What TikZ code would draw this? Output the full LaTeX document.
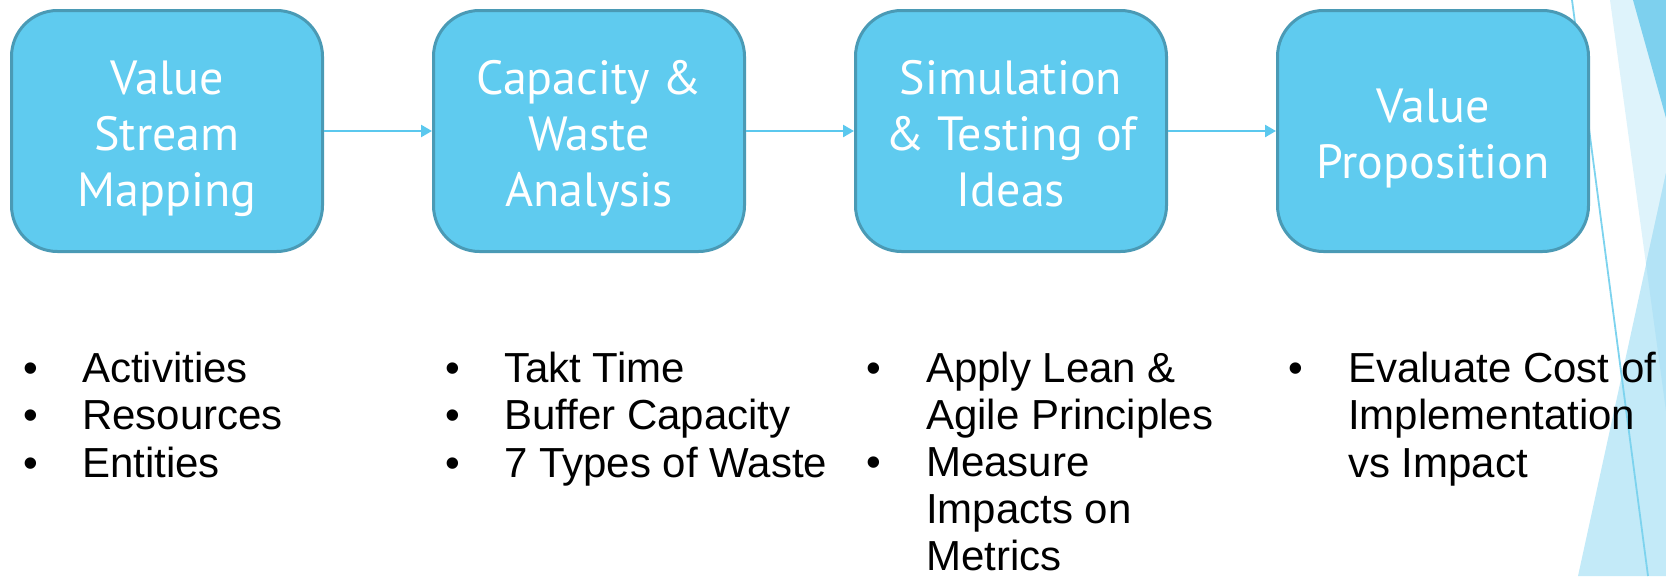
\documentclass[tikz,border=0pt]{standalone}
\usepackage{fontspec}
\setmainfont{Liberation Sans}
\newfontfamily\boxfont{PT Sans}
\usetikzlibrary{arrows.meta}
\definecolor{boxfill}{HTML}{5FCBEF}
\definecolor{boxline}{HTML}{4A9AB5}
\definecolor{arrowc}{HTML}{5BC8EE}
\definecolor{decmed}{HTML}{7DD0EE}
\definecolor{decvlight}{HTML}{DEF3FB}
\definecolor{declight}{HTML}{C3EAF8}
\definecolor{decover}{HTML}{B3E3F6}
\definecolor{decline}{HTML}{7DD3EE}
\newcommand{\boxtext}[1]{\raisebox{-8pt}[\height][\depth]{\begin{tabular}{@{}c@{}}#1\end{tabular}}}
\tikzset{
  stepbox/.style={draw=boxline, line width=3pt, fill=boxfill, rounded corners=46pt,
    minimum width=311pt, minimum height=241pt, inner sep=0pt, align=center,
    text=white, font=\boxfont\fontsize{48}{56}\selectfont},
  flowarrow/.style={draw=arrowc, line width=2.5pt, -{Triangle[length=11pt,width=12pt]}},
  bul/.style={anchor=base, inner sep=0pt, font=\fontsize{42}{47}\selectfont},
  item/.style={anchor=base west, inner sep=0pt, font=\fontsize{42}{47}\selectfont},
}
\begin{document}
\begin{tikzpicture}[x=1pt,y=-1pt]
\useasboundingbox (0,0) rectangle (1666,576);
% background decoration
\fill[decvlight] (1610,0) -- (1666,0) -- (1666,411) -- cycle;
\fill[decmed] (1633,0) -- (1666,0) -- (1666,118) -- cycle;
\fill[declight] (1578,576) -- (1666,173) -- (1666,576) -- cycle;
\fill[decover] (1646,264) -- (1666,173) -- (1666,411) -- cycle;
\draw[decline, line width=1.8pt] (1572,0) -- (1648,576);
% boxes
\node[stepbox] (b1) at (167,131) {\boxtext{Value\\Stream\\Mapping}};
\node[stepbox] (b2) at (589,131) {\boxtext{Capacity \&\\Waste\\Analysis}};
\node[stepbox] (b3) at (1011,131) {\boxtext{Simulation\\\& Testing of\\Ideas}};
\node[stepbox] (b4) at (1433,131) {\boxtext{Value\\Proposition}};
\draw[flowarrow] (b1) -- (b2);
\draw[flowarrow] (b2) -- (b3);
\draw[flowarrow] (b3) -- (b4);
% column 1
\node[bul] (c1b1) at (31,382) {•};
\node[bul] (c1b2) at (31,429.5) {•};
\node[bul] (c1b3) at (31,477) {•};
\node[item] (c1t1) at (82,382) {Activities};
\node[item] (c1t2) at (82,429.5) {Resources};
\node[item] (c1t3) at (82,477) {Entities};
% column 2
\node[bul] (c2b1) at (453,382) {•};
\node[bul] (c2b2) at (453,429.5) {•};
\node[bul] (c2b3) at (453,477) {•};
\node[item] (c2t1) at (504,382) {Takt Time};
\node[item] (c2t2) at (504,429.5) {Buffer Capacity};
\node[item] (c2t3) at (504,477) {7 Types of Waste};
% column 3
\node[bul] (c3b1) at (874,382) {•};
\node[bul] (c3b2) at (874,476.5) {•};
\node[item] (c3t1) at (926,382) {Apply Lean \&};
\node[item] (c3t2) at (926,429) {Agile Principles};
\node[item] (c3t3) at (926,476.5) {Measure};
\node[item] (c3t4) at (926,523.5) {Impacts on};
\node[item] (c3t5) at (926,570) {Metrics};
% column 4
\node[bul] (c4b1) at (1296,382) {•};
\node[item] (c4t1) at (1348,382) {Evaluate Cost of};
\node[item] (c4t2) at (1348,429.5) {Implementation};
\node[item] (c4t3) at (1348,477) {vs Impact};
\end{tikzpicture}
\end{document}
